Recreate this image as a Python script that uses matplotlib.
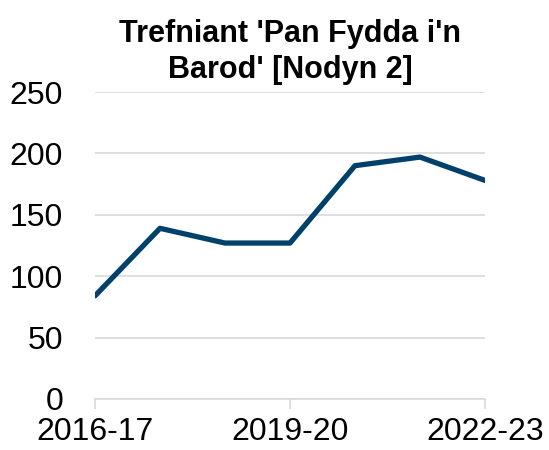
import matplotlib.pyplot as plt

plt.rcParams['font.family'] = ['Liberation Sans', 'DejaVu Sans']

years = ['2016-17', '2017-18', '2018-19', '2019-20', '2020-21', '2021-22', '2022-23']
values = [84, 139, 127, 127, 190, 197, 178]
y_ticks = [0, 50, 100, 150, 200, 250]

fig = plt.figure(figsize=(5.49, 4.5), dpi=100)
ax = fig.add_axes([95 / 549, 1 - 399 / 450, 390 / 549, 307 / 450])

x = list(range(len(years)))
ax.plot(x, values, color='#00416B', linewidth=3.8, solid_joinstyle='round',
        solid_capstyle='round', zorder=3)

ax.set_xlim(0, len(years) - 1)
ax.set_ylim(0, 250)
ax.set_yticks(y_ticks)
ax.set_xticks(x[::3])
ax.set_xticklabels(years[::3])

ax.grid(axis='y', color='#d9d9d9', linewidth=1.2)
for side in ['top', 'right', 'left']:
    ax.spines[side].set_visible(False)
ax.spines['bottom'].set_color('#d9d9d9')
ax.spines['bottom'].set_linewidth(1.2)

ax.tick_params(axis='y', length=0, pad=23, labelsize=23)
ax.tick_params(axis='x', length=7, width=1.2, color='#d9d9d9', pad=6, labelsize=23)

ax.set_title("Trefniant 'Pan Fydda i'n\nBarod' [Nodyn 2]", fontsize=22,
             fontweight='bold', pad=10, linespacing=1.25)

fig.savefig('out.png', dpi=100)
plt.close(fig)
